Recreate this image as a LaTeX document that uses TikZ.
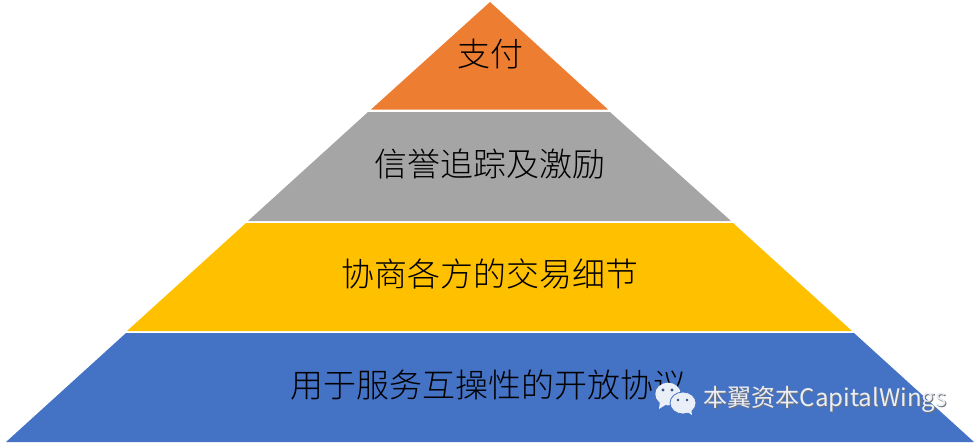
\documentclass[tikz,border=0pt]{standalone}
\usepackage{fontspec}
\setmainfont{Noto Sans CJK SC}
\newfontfamily\tierfont{Noto Sans CJK SC Light}
\definecolor{tierorange}{HTML}{ED7D31}
\definecolor{tiergray}{HTML}{A5A5A5}
\definecolor{tieryellow}{HTML}{FFC000}
\definecolor{tierblue}{HTML}{4472C4}
\definecolor{markwhite}{HTML}{E9EEF7}
\usetikzlibrary{shapes.geometric}
\tikzset{
    tierlabel/.style={font=\tierfont\fontsize{24.7pt}{28pt}\selectfont, text=black, inner sep=0pt},
    marktext/.style={font=\fontsize{18.1pt}{22pt}\selectfont, inner sep=0pt, anchor=west},
    bubble/.style={ellipse, fill=markwhite, inner sep=0pt}
}
\begin{document}
\begin{tikzpicture}[x=0.75pt, y=-0.75pt]
    \useasboundingbox (0,0) rectangle (979,444);

    % Pyramid tiers
    \fill[tierorange] (490,2) -- (608,109.5) -- (371,109.5) -- cycle;
    \fill[tiergray] (368,112) -- (610,112) -- (731,221) -- (248,221) -- cycle;
    \fill[tieryellow] (246,223) -- (733,223) -- (852,331) -- (127,331) -- cycle;
    \fill[tierblue] (126,333) -- (854,333) -- (974,442) -- (6,442) -- cycle;

    % Tier labels
    \node[tierlabel] (pay) at (490,54) {支付};
    \node[tierlabel] (credit) at (490,164) {信誉追踪及激励};
    \node[tierlabel] (terms) at (490,274) {协商各方的交易细节};
    \node[tierlabel] (protocol) at (488.5,385) {用于服务互操性的开放协议};

    % Watermark icon
    \fill[markwhite] (660,401) -- (659,409) -- (667,404) -- cycle;
    \node[bubble, minimum width=19pt, minimum height=17pt] (bigbubble) at (668,394) {};
    \node[bubble, draw=tierblue, line width=0.6pt, minimum width=19.5pt, minimum height=16.5pt] (smallbubble) at (683,403) {};
    \fill[markwhite] (686,411) -- (692,415) -- (691,408) -- cycle;
    \fill[tierblue!70!black] (663,390) circle (1.6) (672,390) circle (1.6)
        (678,400) circle (1.4) (687,400) circle (1.4);

    % Watermark text
    \node[marktext, text=black!55] (markshadow) at (704,400) {本翼资本CapitalWings};
    \node[marktext, text=markwhite] (marktitle) at (703,399) {本翼资本CapitalWings};
\end{tikzpicture}
\end{document}
